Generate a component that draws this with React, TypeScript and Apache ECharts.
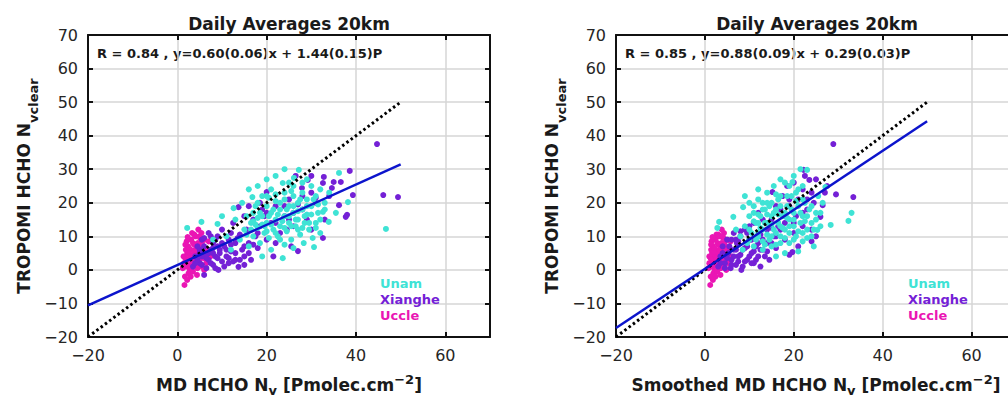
import React, { useEffect, useRef } from "react";
import * as echarts from "echarts";

// ---------- data ----------
const siteNames = ["Unam", "Xianghe", "Uccle"];
const siteColors = ["#3fe3d5", "#7420d6", "#ea16b4"];
const panelTitles = ["Daily Averages 20km", "Daily Averages 20km"];
const annotations = [
  "R = 0.84 , y=0.60(0.06)x + 1.44(0.15)P",
  "R = 0.85 , y=0.88(0.09)x + 0.29(0.03)P",
];
const fitSlopes = [0.6, 0.88];
const fitIntercepts = [1.44, 0.29];
const lineRange = [-20, 50];
const xTicks = [-20, 0, 20, 40, 60];
const axisMin = -20;
const axisMax = 70;

// left panel (MD HCHO)
const uccleLeft = [
  [1.6, -4.5], [1.2, 0.5], [1.5, 2], [1.8, 3.5], [2, 1], [2.2, 5], [2.4, 7], [2.1, 8.5], [2.6, 3], [2.8, 0],
  [3, 6], [3.2, 2], [3.1, 9], [3.4, 4.5], [3.6, 1.5], [3.8, 7.5], [4, 3], [4.1, 10], [4.3, 5.5], [4.5, 0.5],
  [4.6, 8], [4.8, 2.5], [5, 6.5], [5.2, 4], [5.4, 11], [5.5, 1], [5.7, 7], [5.9, 3.5], [6.1, 9], [6.3, 5],
  [6.5, 2], [6.8, 6], [7, 8.5], [7.4, 4], [2.5, -1], [3.5, -0.5], [1.9, 6], [2.9, 4], [4.4, -1.5], [3.3, 11],
  [2.3, 9.8], [1.7, -2], [6, 0], [5.1, 9.5], [4.7, 12], [3.9, 5], [2.7, 2], [1.4, 4], [3.7, 3], [5.6, 5],
  [2, 3], [2.5, 5.5], [3, 1], [3.5, 8], [4, 6], [4.5, 4], [5, 2], [5.5, 8], [6, 6.5], [3, -2],
  [2.2, -3], [4.2, 1.5], [6.5, 4], [1.8, 7.5], [3.8, 10.5], [5, 10], [2.6, 6.5], [4.9, 3.2], [3.4, 3.5], [6.8, 3],
];
const xiangheLeft = [
  [3.5, 1], [4, 4], [4.5, 7], [5, 2], [5.5, 9], [6, 5], [6.5, 0.5], [7, 3], [7, 11], [7.5, 6],
  [8, 1.5], [8, 8], [8.5, 4], [9, 10], [9.2, 0], [9.5, 6], [10, 2.5], [10, 12], [10.5, 7], [11, 4],
  [11.5, 2], [11.5, 9], [12, 5.5], [12.5, 14], [13, 3], [13, 8], [13.7, 0.9], [13.7, 18.7], [14, 10.5], [14.5, 6],
  [15, 4], [15.5, 12], [16, 8], [16.5, 3], [17, 15], [17.5, 10], [18, 6.5], [18.5, 13], [19, 18], [20, 23.2],
  [20, 9], [21, 14], [21.5, 4], [22, 19], [23, 11], [24, 16], [25, 21], [25.5, 7], [26, 13], [27, 5.6],
  [27.9, 24.4], [28, 18], [29.2, 26.8], [30, 12], [31, 20], [32.6, 25.9], [32.6, 9.5], [32.8, 27.7], [34.6, 24.4], [35, 26.2],
  [36.2, 19.3], [36.6, 26.2], [37.7, 15.8], [38, 16.4], [38.6, 29.5], [39.3, 22.3], [44.7, 37.5], [46.1, 22.3], [49.4, 21.7], [6, -1.5],
  [5, 6], [8, 5], [22, 8], [24.5, 12], [19.5, 16], [15, 1.5], [28, 22], [30, 28], [26, 17], [33, 15],
  [16, 19], [12, 11], [31, 21.5], [26.5, 28],
  [4.5, 3], [5, 5], [5.5, 1.5], [6, 7], [6.5, 3.5], [7, 5], [7.5, 2], [8, 6.5], [8.5, 0.5], [8.5, 9],
  [9, 3.5], [9.5, 5], [10, 8], [10.5, 1], [11, 6], [11.5, 3.5], [12, 7.5], [12.5, 2.5], [13, 5], [13.5, 9.5],
  [14, 3], [15, 7], [16, 5], [17, 7.5], [18, 11], [6, 9.5], [7.5, 10], [9, 7], [4, 2], [5.5, 4],
  [24, 19], [27, 19.5], [29, 15], [34, 22], [30, 23], [20, 17], [22, 14], [25, 15], [18.5, 20], [15, 16],
];
const unamLeft = [
  [2.2, 12.5], [5.4, 14.3], [9, 13.7], [12.6, 18.4], [16.8, 21.7], [14, 9], [15, 12], [15.5, 16], [16, 7], [16.5, 14],
  [17, 10], [17.5, 19], [18, 12.5], [18.5, 8], [19, 16], [19, 22], [19.5, 11], [20, 14], [20, 19], [20.5, 9.5],
  [21, 17], [21, 24], [21.5, 12], [22, 15], [22, 20.5], [22.5, 10], [23, 18], [23, 13], [23.6, 25.9], [23.6, 3.5],
  [24, 16], [24, 21], [24.5, 11.5], [25, 14], [25, 19], [25, 26], [25.5, 9], [26, 17], [26, 22], [26.1, 27.4],
  [26.5, 13], [27, 15], [27, 20], [27.2, 29.8], [27.5, 10.5], [28, 18], [28, 23], [28.3, 8], [28.5, 14], [29, 16.5],
  [29, 21], [29.5, 12], [30, 19], [30, 25], [30.3, 9.5], [30.6, 6.8], [31, 14], [31, 22], [31.5, 17], [32, 11],
  [32.6, 17.3], [33, 20], [33.9, 14.3], [35.5, 17], [36.2, 28.9], [38.2, 20.2], [46.7, 12.2], [18, 25], [20, 27], [22, 28],
  [24, 30], [17, 17], [13, 15], [11, 10], [12, 6], [10, 16], [8, 9], [21, 6], [19, 4], [26, 6.5],
  [24, 7.5], [29, 27], [32, 24], [34, 23], [16, 24], [14.5, 20], [23, 9], [20.5, 21.5], [27, 12], [25.5, 23.5],
  [15.5, 10.5], [16.5, 12], [17.5, 13.5], [18, 15.5], [18.5, 17], [19.5, 13], [20, 11.5], [20.5, 16], [21, 13.5], [21.5, 18],
  [22, 11], [22.5, 16.5], [23, 20], [23.5, 14.5], [24, 12.5], [24.5, 18], [25, 16], [25.5, 13], [26, 19], [26.5, 15],
  [27, 17.5], [27.5, 21], [28, 12.5], [28.5, 16], [29, 19], [29.5, 14], [30, 16.5], [30.5, 21], [31, 12.5], [31.5, 19.5],
  [32, 15], [33, 18], [24, 23], [22, 22.5], [20, 22], [18, 20], [26, 25], [28, 26], [17, 14.5], [19, 13.5],
];

// right panel (smoothed MD HCHO)
const uccleRight = [
  [1.2, -4.5], [0.8, 0.5], [1, 2], [1.3, 3.5], [1.5, 1], [1.6, 5], [1.8, 7], [1.5, 8.5], [2, 3], [2.2, 0],
  [2.4, 6], [2.5, 2], [2.4, 9], [2.7, 4.5], [2.9, 1.5], [3, 7.5], [3.2, 3], [3.3, 10], [3.5, 5.5], [3.6, 0.5],
  [3.7, 8], [3.9, 2.5], [4, 6.5], [4.2, 4], [4.3, 11], [4.4, 1], [4.6, 7], [4.8, 3.5], [5, 9], [5.1, 5],
  [5.3, 2], [5.5, 6], [5.8, 8.5], [6, 4], [1.9, -1], [2.8, -0.5], [1.4, 6], [2.3, 4], [3.5, -1.5], [2.6, 10.5],
  [1.7, 9.8], [1.3, -2], [4.8, 0], [4.1, 9.5], [3.8, 12], [3.1, 5], [2.1, 2], [1, 4], [3, 3], [4.5, 5],
  [1.5, 3], [2, 5.5], [2.4, 1], [2.8, 8], [3.2, 6], [3.6, 4], [4, 2], [4.4, 8], [4.8, 6.5], [2.4, -2],
  [1.8, -3], [3.4, 1.5], [5.2, 4], [1.4, 7.5], [3, 10.5], [4, 10], [2.1, 6.5], [3.9, 3.2], [2.7, 3.5], [5.4, 3],
];
const xiangheRight = [
  [3, 1], [3.5, 4], [4, 7], [4.5, 2], [5, 9], [5.3, 5], [5.8, 0.5], [6, 3], [6.5, 11], [6.5, 6],
  [7, 1.5], [7.2, 8], [7.5, 4], [8, 10], [8.2, 0], [8.5, 6], [9, 2.5], [9, 12], [9.5, 7], [10, 4],
  [10.5, 2], [10.5, 9], [11, 5.5], [11, 14], [11.5, 3], [12, 8], [12.5, 1], [12, 17], [12.5, 10.5], [13, 6],
  [13.5, 4], [14, 12], [14, 8], [14.5, 3], [15, 15], [15.2, 23.2], [15.5, 10], [16, 6.5], [16.5, 13], [17, 18],
  [17.5, 22], [18, 9], [18, 14], [19, 4.5], [19, 19], [20, 11], [20.5, 16], [21, 21], [21, 7], [22, 13],
  [22, 24], [23, 18], [23.5, 26.8], [24, 12], [24.5, 20], [25, 27], [26, 15.8], [26.5, 19.3], [27, 23], [28.9, 37.5],
  [33.4, 21.7], [27.5, 25], [29.5, 22.5], [25, 10], [20, 26], [16, 19], [10, 13], [7, 9], [13, 15], [18.5, 25],
  [22.5, 28], [24, 8.5], [19.7, 5.3], [22.2, 29.8],
  [3.5, 2], [4, 5], [4.5, 0.5], [5, 3.5], [5.5, 7], [6, 1.5], [6.5, 4], [7, 6], [7.5, 2.5], [7.5, 8.5],
  [8, 4.5], [8.5, 1], [9, 6.5], [9.5, 3], [10, 9], [10.5, 5], [11, 2], [11.5, 7], [12, 4], [12.5, 6],
  [13, 9], [14, 5.5], [15, 8], [16, 10], [17, 12], [8, 11.5], [9.5, 11], [6, 9], [18, 16], [20, 14],
  [22, 17], [24, 23], [23, 21], [19, 21], [15, 12.5],
];
const unamRight = [
  [2.8, 12.5], [3.2, 14.3], [6.4, 15.8], [8.6, 18.7], [8, 10], [9, 13], [9.5, 8], [10, 16], [10.5, 11], [11, 19],
  [11, 7], [11.5, 14], [12, 10], [12, 21], [12.5, 16], [13, 12], [13, 6], [13.5, 18], [14, 14], [14, 23],
  [14.5, 9], [15, 16], [15, 20], [15.5, 12], [15.5, 25], [16, 7.5], [16, 18], [16.5, 14], [17, 22], [17, 10],
  [17.5, 16], [18, 12], [18, 26], [18.5, 19], [19, 8], [19, 15], [19.7, 26.2], [19.5, 22], [20, 13], [20, 17],
  [20.5, 10], [21, 19], [21, 24], [21.5, 14], [22, 8.5], [22, 16], [22.5, 20], [23, 9.5], [23, 29.8], [23, 12],
  [23.5, 18], [24, 14], [24.5, 7], [25, 17], [25.3, 11.9], [25.5, 22], [26, 13], [27.1, 24.7], [28.3, 13.4], [32.3, 14.6],
  [33, 17], [21.5, 30], [20, 28], [17, 27], [10, 20], [7, 12], [9, 22], [12, 24], [13.5, 7.5], [16, 4],
  [18, 5], [21, 5.5], [24, 10], [26.5, 20], [19, 11], [14, 16.5], [12, 14], [15, 10], [17, 13], [10, 9],
  [11, 17], [8.5, 6], [13, 20], [16.5, 21], [18.5, 15.5], [22, 11], [20.5, 20.5],
  [10, 12], [11, 14.5], [11.5, 9], [12, 16.5], [12.5, 12.5], [13, 18], [13.5, 14], [14, 10.5], [14.5, 19], [15, 13.5],
  [15.5, 17], [16, 11], [16.5, 16.5], [17, 19], [17.5, 12.5], [18, 17], [18.5, 22], [19, 13], [19.5, 18], [20, 15],
  [20.5, 23], [21, 11.5], [21.5, 17], [22, 21], [22.5, 14.5], [23, 16], [24, 19], [24.5, 12], [25, 15], [26, 17],
  [12, 11], [14, 20], [16, 22.5], [18, 9.5], [20, 9], [22, 25], [13, 8.5], [15, 7], [17, 8], [19, 25],
];

const panelData = [
  [unamLeft, xiangheLeft, uccleLeft],
  [unamRight, xiangheRight, uccleRight],
];
const xNames = ["MD HCHO N", "Smoothed MD HCHO N"];

// ---------- layout ----------
const FONT = "DejaVu Sans";
const grids = [
  { left: 88, top: 35, width: 402, height: 302 },
  { left: 616, top: 35, width: 400, height: 302 },
];

const fmt = (v: number) => String(v).replace("-", "\u2212");

export default function App() {
  const ref = useRef<HTMLDivElement>(null);
  useEffect(() => {
    if (!ref.current) return;
    const chart = echarts.init(ref.current, undefined, { renderer: "svg" });

    const xAxis: any[] = [];
    const yAxis: any[] = [];
    const series: any[] = [];
    const graphic: any[] = [];

    grids.forEach((g, gi) => {
      const common = {
        gridIndex: gi,
        type: "value",
        min: axisMin,
        max: axisMax,
        axisLine: { show: true, onZero: false, lineStyle: { color: "#111", width: 2 } },
        axisTick: { show: true, inside: true, length: 5, lineStyle: { color: "#111", width: 2 } },
      };
      xAxis.push({
        ...common,
        position: "bottom",
        interval: 20,
        splitLine: { show: true, lineStyle: { color: "#d6d6d6", width: 1.5 } },
        axisLabel: {
          margin: 10,
          fontSize: 16,
          fontFamily: FONT,
          color: "#262626",
          formatter: (v: number) => (xTicks.includes(v) ? fmt(v) : ""),
        },
        name: `{a|${xNames[gi]}}{s|v}{a| [Pmolec.cm}{p|\u22122}{a|]}`,
        nameLocation: "middle",
        nameGap: 36,
        nameTextStyle: {
          rich: {
            a: { fontSize: 17, fontWeight: "bold", fontFamily: FONT, color: "#1a1a1a", lineHeight: 24 },
            s: { fontSize: 13, fontWeight: "bold", fontFamily: FONT, color: "#1a1a1a", lineHeight: 10, verticalAlign: "bottom" },
            p: { fontSize: 13, fontWeight: "bold", fontFamily: FONT, color: "#1a1a1a", lineHeight: 14, verticalAlign: "top" },
          },
        },
      });
      xAxis.push({
        ...common,
        position: "top",
        interval: 20,
        splitLine: { show: false },
        axisLabel: { show: false },
      });
      yAxis.push({
        ...common,
        position: "left",
        interval: 10,
        splitLine: { show: true, lineStyle: { color: "#d6d6d6", width: 1.5 } },
        axisLabel: { margin: 10, fontSize: 16, fontFamily: FONT, color: "#262626", formatter: fmt },
        name: "{a|TROPOMI HCHO N}{s|vclear}",
        nameLocation: "middle",
        nameGap: 48,
        nameTextStyle: {
          rich: {
            a: { fontSize: 17, fontWeight: "bold", fontFamily: FONT, color: "#1a1a1a", lineHeight: 32 },
            s: { fontSize: 13, fontWeight: "bold", fontFamily: FONT, color: "#1a1a1a", lineHeight: 4, verticalAlign: "bottom" },
          },
        },
      });
      yAxis.push({
        ...common,
        position: "right",
        interval: 10,
        splitLine: { show: false },
        axisLabel: { show: false },
      });

      const xi = gi * 2;
      const yi = gi * 2;
      [2, 1, 0].forEach((si) => {
        series.push({
          type: "scatter",
          name: siteNames[si],
          xAxisIndex: xi,
          yAxisIndex: yi,
          data: panelData[gi][si],
          symbolSize: 6,
          itemStyle: { color: siteColors[si], opacity: 1 },
          z: 2,
        });
      });
      series.push({
        type: "line",
        xAxisIndex: xi,
        yAxisIndex: yi,
        data: lineRange.map((x) => [x, x]),
        symbol: "none",
        lineStyle: { color: "#000", width: 3, type: [2.5, 2.8], cap: "butt" },
        z: 3,
      });
      series.push({
        type: "line",
        xAxisIndex: xi,
        yAxisIndex: yi,
        data: lineRange.map((x) => [x, fitSlopes[gi] * x + fitIntercepts[gi]]),
        symbol: "none",
        lineStyle: { color: "#0c14cc", width: 2.5 },
        z: 4,
      });

      graphic.push({
        type: "text",
        x: g.left + 201,
        y: 24,
        style: {
          text: panelTitles[gi],
          fontSize: 17,
          fontWeight: "bold",
          fontFamily: FONT,
          fill: "#1a1a1a",
          align: "center",
          verticalAlign: "middle",
        },
      });
      graphic.push({
        type: "text",
        x: g.left + 9,
        y: 53,
        style: {
          text: annotations[gi],
          fontSize: 13,
          fontWeight: "bold",
          fontFamily: FONT,
          fill: "#1a1a1a",
          align: "left",
          verticalAlign: "middle",
        },
      });
      siteNames.forEach((n, si) => {
        graphic.push({
          type: "text",
          x: g.left + 292,
          y: 283 + si * 16,
          z: 10,
          style: {
            text: n,
            fontSize: 13,
            fontWeight: "bold",
            fontFamily: FONT,
            fill: siteColors[si],
            align: "left",
            verticalAlign: "middle",
          },
        });
      });
    });

    chart.setOption({
      animation: false,
      backgroundColor: "#ffffff",
      grid: grids.map((g) => ({ ...g, show: false, containLabel: false, outerBoundsMode: "none" })),
      xAxis,
      yAxis,
      series,
      graphic,
    });
    return () => chart.dispose();
  }, []);

  return (
    <div
      style={{ position: "absolute", left: 0, top: 0, width: 1008, height: 399, overflow: "hidden", background: "#fff" }}
    >
      <div ref={ref} style={{ width: 1040, height: 399 }} />
    </div>
  );
}
